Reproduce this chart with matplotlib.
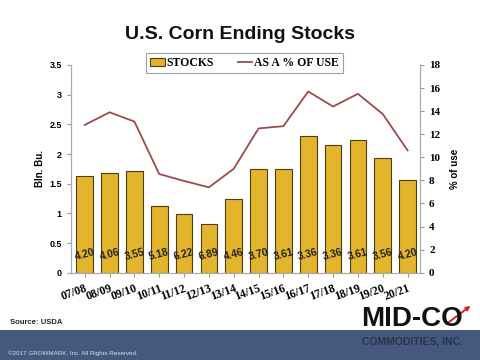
import numpy as np
import matplotlib
matplotlib.use('Agg')
import matplotlib.pyplot as plt
from matplotlib.patches import Rectangle, FancyArrowPatch

# Data
years = ["07/08", "08/09", "09/10", "10/11", "11/12", "12/13", "13/14",
         "14/15", "15/16", "16/17", "17/18", "18/19", "19/20", "20/21"]
stocks = [1.63, 1.68, 1.71, 1.13, 0.99, 0.82, 1.24,
          1.74, 1.75, 2.30, 2.15, 2.23, 1.93, 1.56]
pct_use = [12.8, 13.9, 13.1, 8.55, 7.95, 7.4, 9.0,
           12.5, 12.7, 15.7, 14.4, 15.5, 13.75, 10.6]
prices = ["4.20", "4.06", "3.55", "5.18", "6.22", "6.89", "4.46",
          "3.70", "3.61", "3.36", "3.36", "3.61", "3.56", "4.20"]

bar_color = '#e3b52c'
line_color = '#9b4b4b'
sans = 'Liberation Sans'
serif = 'Liberation Serif'

fig = plt.figure(figsize=(4.8, 3.6), dpi=100, facecolor='white')
ax = fig.add_axes([0.148, 0.2425, 0.727, 0.577])
x = np.arange(len(years))

bars = ax.bar(x, stocks, width=0.67, color=bar_color, edgecolor='#4d3d12',
              linewidth=0.8, label='STOCKS', zorder=2)
ax.set_xlim(-0.55, len(years) - 0.5)
ax.set_ylim(0, 3.5)
ax.set_yticks(np.arange(0, 3.51, 0.5))
ax.set_yticklabels(['0', '0.5', '1', '1.5', '2', '2.5', '3', '3.5'],
                   fontsize=6.5, fontweight='bold', family=sans)
ax.set_ylabel('Bln. Bu.', fontsize=7, fontweight='bold', family=sans, labelpad=3)
ax.set_xticks(x)
ax.set_xticklabels(years, rotation=20, ha='right', rotation_mode='anchor',
                   fontsize=8.5, fontweight='bold', family=serif)
ax.tick_params(axis='x', length=3, color='#999999', pad=4)
ax.tick_params(axis='y', length=3, color='#999999')

for xi, p in zip(x, prices):
    ax.text(xi, 0.3, p, ha='center', va='center', rotation=15,
            fontsize=7.5, fontweight='bold', color='#222222', family=sans, zorder=3)

ax2 = ax.twinx()
ln, = ax2.plot(x, pct_use, color=line_color, linewidth=1.3, label='AS A % OF USE')
ax2.set_ylim(0, 18)
ax2.set_yticks(range(0, 19, 2))
ax2.set_yticklabels([str(v) for v in range(0, 19, 2)], fontsize=8,
                    fontweight='bold', family=serif)
ax2.set_ylabel('% of use', fontsize=7, fontweight='bold', family=sans, labelpad=7)
ax2.tick_params(axis='y', length=3, color='#999999')

for a in (ax, ax2):
    a.spines['top'].set_visible(False)
    for s in ('left', 'right', 'bottom'):
        a.spines[s].set_color('#aaaaaa')
        a.spines[s].set_linewidth(0.8)

leg = fig.legend([bars, ln], ['STOCKS', 'AS A % OF USE'], ncol=2,
                 loc='center', bbox_to_anchor=(0.51, 0.825), frameon=True,
                 fancybox=False, edgecolor='#888888', handlelength=1.2,
                 handletextpad=0.2, columnspacing=2.0, borderpad=0.35,
                 prop={'family': serif, 'weight': 'bold', 'size': 8.5})
leg.get_frame().set_linewidth(0.8)

fig.text(0.5, 0.905, 'U.S. Corn Ending Stocks', ha='center', va='center',
         fontsize=14, fontweight='bold', family=sans, color='#111111')

# footer band
fig.patches.append(Rectangle((0, 0), 1, 0.083, transform=fig.transFigure,
                             facecolor='#45597f', edgecolor='none', zorder=0))
fig.text(0.017, 0.02, '\u00a92017 GROWMARK, Inc. All Rights Reserved.',
         fontsize=4.5, color='#dddddd', family=sans, va='center')
fig.text(0.021, 0.105, 'Source: USDA', fontsize=5.5, fontweight='bold',
         family=sans, va='center', color='#222222')
fig.text(0.752, 0.113, 'MID-CO', fontsize=20, fontweight='bold', family=sans,
         va='center', ha='left', color='#111111')
fig.text(0.755, 0.052, 'COMMODITIES, INC.', fontsize=7.5, fontweight='bold',
         family=sans, va='center', ha='left', color='#2a3448')
fig.add_artist(FancyArrowPatch(
    (0.925, 0.095), (0.985, 0.155), transform=fig.transFigure,
    arrowstyle='-|>', mutation_scale=6, color='#cc2a2a', linewidth=1.4))

plt.savefig('out.png', dpi=100, facecolor='white')
